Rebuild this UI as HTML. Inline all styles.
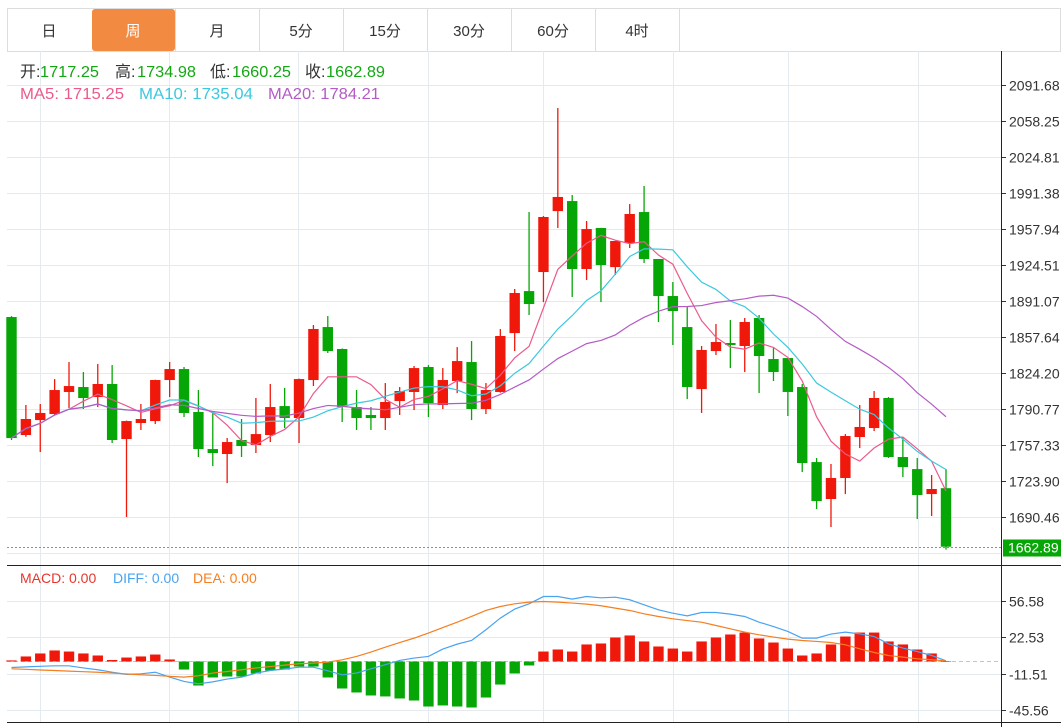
<!DOCTYPE html>
<html><head><meta charset="utf-8"><style>
body{margin:0;background:#fff;font-family:"Liberation Sans","Noto Sans CJK SC",sans-serif;}
svg{display:block}
.tab{font-size:15px;fill:#333;text-anchor:middle}
</style></head><body>
<svg id="c" width="1061" height="727" xmlns="http://www.w3.org/2000/svg">
<g id="tabs">
<rect x="7.5" y="8.5" width="1053" height="43" fill="#fff" stroke="#ddd"/>
<rect x="92" y="9" width="83" height="42" rx="3" fill="#f28b41"/>
<line x1="175.5" y1="9" x2="175.5" y2="51" stroke="#ddd"/><line x1="259.5" y1="9" x2="259.5" y2="51" stroke="#ddd"/><line x1="343.5" y1="9" x2="343.5" y2="51" stroke="#ddd"/><line x1="427.5" y1="9" x2="427.5" y2="51" stroke="#ddd"/><line x1="511.5" y1="9" x2="511.5" y2="51" stroke="#ddd"/><line x1="595.5" y1="9" x2="595.5" y2="51" stroke="#ddd"/><line x1="679.5" y1="9" x2="679.5" y2="51" stroke="#ddd"/>
<text class="tab" x="49" y="36">日</text>
<text class="tab" x="133" y="36" style="fill:#fff">周</text>
<text class="tab" x="217" y="36">月</text>
<text class="tab" x="301" y="36">5分</text>
<text class="tab" x="385" y="36">15分</text>
<text class="tab" x="469" y="36">30分</text>
<text class="tab" x="553" y="36">60分</text>
<text class="tab" x="637" y="36">4时</text>
</g>
<g id="grid"></g>
<g id="main"></g>
<g id="macd"></g>
<g id="axes">
<line x1="1001.5" y1="51" x2="1001.5" y2="727" stroke="#222"/>
<line x1="7" y1="565.5" x2="1061" y2="565.5" stroke="#222"/>
<line x1="7" y1="722.5" x2="1061" y2="722.5" stroke="#222"/>
</g>
<g font-size="16">
<g>
<text x="20" y="77" fill="#333">开:</text><text x="40" y="77" fill="#13a813" textLength="59" lengthAdjust="spacingAndGlyphs">1717.25</text>
<text x="115" y="77" fill="#333">高:</text><text x="137" y="77" fill="#13a813" textLength="59" lengthAdjust="spacingAndGlyphs">1734.98</text>
<text x="210" y="77" fill="#333">低:</text><text x="232" y="77" fill="#13a813" textLength="59" lengthAdjust="spacingAndGlyphs">1660.25</text>
<text x="305" y="77" fill="#333">收:</text><text x="326" y="77" fill="#13a813" textLength="59" lengthAdjust="spacingAndGlyphs">1662.89</text>
</g>
<g>
<text x="20" y="99" fill="#ec5a8c" textLength="104" lengthAdjust="spacingAndGlyphs">MA5: 1715.25</text>
<text x="139" y="99" fill="#3cc8de" textLength="114" lengthAdjust="spacingAndGlyphs">MA10: 1735.04</text>
<text x="268" y="99" fill="#b45bc6" textLength="112" lengthAdjust="spacingAndGlyphs">MA20: 1784.21</text>
</g>
<g font-size="14">
<text x="20" y="583" fill="#e8352b">MACD: 0.00</text>
<text x="113" y="583" fill="#4aa3f0">DIFF: 0.00</text>
<text x="193" y="583" fill="#f57e20">DEA: 0.00</text>
</g>
</g>
</svg>
<script>
const opens =[1876.2,1766.6,1780.5,1786.1,1806.6,1811.2,1801.9,1814.0,1762.9,1777.8,1779.6,1817.7,1827.9,1788.0,1753.6,1749.0,1762.0,1757.3,1766.6,1793.5,1782.4,1817.7,1866.9,1846.5,1792.6,1785.2,1782.4,1798.2,1806.6,1829.8,1794.5,1816.8,1834.4,1790.8,1806.6,1861.3,1900.3,1918.0,1974.6,1983.9,1920.8,1958.9,1922.6,1944.9,1973.7,1930.1,1895.7,1866.9,1809.3,1844.6,1852.1,1849.3,1875.3,1837.2,1838.1,1811.2,1741.5,1707.2,1726.7,1764.8,1773.1,1801.0,1746.2,1735.0,1711.8,1717.25];
const highs =[1877.1,1794.5,1795.4,1818.6,1834.4,1825.1,1832.6,1831.6,1780.0,1795.4,1818.0,1834.4,1829.8,1808.4,1787.1,1763.8,1781.5,1801.0,1814.0,1810.3,1819.0,1868.8,1877.1,1847.0,1808.4,1792.6,1814.9,1811.2,1830.7,1831.6,1828.8,1848.3,1853.9,1814.9,1865.1,1902.2,1973.7,1970.0,2070.3,1989.5,1965.4,1959.0,1947.0,1981.1,1997.9,1930.1,1908.7,1885.5,1849.3,1869.7,1873.4,1875.3,1878.1,1847.4,1838.1,1814.0,1745.3,1739.7,1767.5,1794.5,1807.5,1801.9,1764.8,1745.3,1729.5,1734.98];
const lows  =[1762.0,1765.0,1750.8,1785.0,1791.7,1790.8,1792.6,1759.2,1690.5,1771.3,1776.8,1801.9,1783.3,1746.2,1737.8,1722.0,1746.2,1749.9,1760.1,1773.1,1759.2,1812.1,1842.8,1778.7,1771.3,1771.3,1771.3,1785.2,1789.8,1783.3,1790.8,1805.6,1780.5,1786.1,1806.0,1844.6,1878.1,1890.1,1958.9,1894.8,1910.6,1890.1,1915.2,1940.3,1926.4,1871.6,1850.2,1800.0,1787.1,1840.9,1828.8,1825.1,1805.6,1816.8,1784.3,1732.3,1697.9,1681.2,1711.8,1754.5,1770.3,1745.3,1727.6,1688.6,1691.4,1660.25];
const closes=[1763.8,1781.5,1787.1,1808.4,1812.1,1801.0,1814.0,1762.0,1779.6,1781.5,1817.7,1827.9,1787.1,1753.6,1749.9,1760.1,1756.4,1767.5,1792.6,1782.4,1818.6,1865.1,1844.6,1792.6,1782.4,1782.4,1797.3,1807.5,1828.8,1796.3,1817.7,1835.3,1790.8,1808.4,1858.6,1898.5,1888.3,1969.1,1987.7,1920.8,1957.9,1924.5,1946.8,1971.9,1930.1,1895.7,1881.8,1811.2,1845.6,1853.0,1850.2,1871.6,1840.0,1825.1,1806.6,1740.6,1705.3,1726.7,1765.7,1774.1,1801.0,1746.2,1736.9,1710.9,1716.5,1662.89];
const macdBars=[1,4.7,7.5,10.3,9.3,7.5,5.6,1.4,3.7,4.7,6.5,1.9,-7.5,-22.4,-14.9,-14,-14,-11.2,-8.4,-7.5,-4.7,-4.7,-14.9,-25.2,-28.9,-31.7,-32.6,-34.5,-36.4,-42,-41,-42,-42.9,-33.6,-21.5,-11.2,-3.7,9.3,11.2,9.3,15.9,16.8,22.4,24.3,18.7,14,12.1,9.3,18.7,22.4,25.2,27,21.5,17.7,12.1,5.6,7.5,15.9,23.3,27,27,18.7,15.9,11.2,7.5,0];
const diffVals=[-5.6,-5,-4.5,-4,-4,-6,-7.7,-10,-12,-11.5,-10,-14.5,-18.6,-20.8,-19,-16.4,-14.6,-10.8,-8.4,-7,-5.3,-5.3,-8.7,-12.4,-10.8,-6.8,-3,1,3.2,4.7,11.6,16.2,19.6,29.6,40.5,48.9,53.8,60.6,60.6,58.2,60.6,59.4,60,57.6,52.9,48.2,45.1,42.6,45.7,45.7,44.2,42,36.7,32.6,28,21.8,21.8,25.6,27.4,25.8,23.3,16.5,12.5,9.3,5.6,0.6];
const deaVals=[-6.8,-7.3,-7.9,-8.4,-9,-9.5,-10,-10.8,-11.6,-12.4,-13,-13.8,-14.6,-13.3,-10.8,-9.3,-7.7,-6,-4.7,-3.4,-2.1,-1.5,-0.6,1.6,4.7,8.8,13.4,17.7,21.8,26.5,31.7,36.7,42,47.6,51.3,53.8,55.4,56,55.4,54.5,53.5,52,49.8,47.6,44.5,42,39.8,38.2,36.7,33.6,30.5,27.4,24.9,22.8,20.9,19.6,18.7,17.7,15.6,11.8,8.4,5.6,4.1,2.5,1.6,0.6];
const priceTicks=[2091.68,2058.25,2024.81,1991.38,1957.94,1924.51,1891.07,1857.64,1824.20,1790.77,1757.33,1723.90,1690.46];
const macdTicks=[56.58,22.53,-11.51,-45.56];
const lastPrice=1662.89;

const NS="http://www.w3.org/2000/svg";
function mk(tag,attrs,parent){const e=document.createElementNS(NS,tag);for(const k in attrs)e.setAttribute(k,attrs[k]);parent.appendChild(e);return e;}
const N=closes.length;
const xS=i=>11.5+i*(946-11.5)/(N-1);
const yP=p=>85+(2091.68-p)*1.0768;
const yM=v=>661.5-v*1.072;
const grid=document.getElementById('grid'),main=document.getElementById('main'),mac=document.getElementById('macd'),axes=document.getElementById('axes');
[40,169,298,428,543,673,788,918].forEach(x=>{const l=mk('line',{x1:x+.5,y1:51,x2:x+.5,y2:722,stroke:'#e3eaf0'},grid);

});
priceTicks.forEach(t=>{const y=Math.round(yP(t))+.5;
const l=mk('line',{x1:7,y1:y,x2:1001,y2:y,stroke:'#e3eaf0'},grid);


mk('line',{x1:1002,y1:y,x2:1006,y2:y,stroke:'#333'},axes);
const tx=mk('text',{x:1009,y:y+5,'font-size':14,fill:'#333'},axes);tx.textContent=t.toFixed(2);

});
mk('line',{x1:7,y1:553.5,x2:1001,y2:553.5,stroke:'#e3eaf0'},grid);
macdTicks.forEach(t=>{const y=Math.round(yM(t))+.5;
const l=mk('line',{x1:7,y1:y,x2:1001,y2:y,stroke:'#e3eaf0'},grid);


mk('line',{x1:1002,y1:y,x2:1006,y2:y,stroke:'#333'},axes);
const tx=mk('text',{x:1009,y:y+5,'font-size':14,fill:'#333'},axes);tx.textContent=t.toFixed(2);

});
const RED='#f0180a',GRN='#07a607';
for(let i=0;i<N;i++){const up=closes[i]>=opens[i];const col=up?RED:GRN;const x=xS(i);
const w=mk('line',{x1:x,y1:yP(highs[i]),x2:x,y2:yP(lows[i]),stroke:col,'stroke-width':1.3},main);


const top=yP(Math.max(opens[i],closes[i])),bot=yP(Math.min(opens[i],closes[i]));
const r=mk('rect',{x:x-5.2,y:top,width:10.4,height:Math.max(1.5,bot-top),fill:col},main);

}
function ma(n){return closes.map((_,i)=>{const s=Math.max(0,i-n+1);let t=0;for(let k=s;k<=i;k++)t+=closes[k];return t/(i-s+1);});}
[[5,'#ec5a8c','ma5-line'],[10,'#3cc8de','ma10-line'],[20,'#b45bc6','ma20-line']].forEach(([n,c,nm])=>{
const v=ma(n);const p=mk('polyline',{points:v.map((m,i)=>xS(i)+','+yP(m)).join(' '),fill:'none',stroke:c,'stroke-width':1.2},main);

});
const ly=Math.round(yP(lastPrice))+.5;
mk('line',{x1:7,y1:ly,x2:1001,y2:ly,stroke:'#4cc04c','stroke-dasharray':'2,2'},main);
mk('rect',{x:1003,y:ly-8,width:58,height:17,fill:GRN},axes);
const lt=mk('text',{x:1008,y:ly+5,'font-size':14,fill:'#fff'},axes);lt.textContent=lastPrice.toFixed(2);


const z=yM(0);
mk('line',{x1:7,y1:z,x2:1001,y2:z,stroke:'#9fd0ec','stroke-dasharray':'4,3'},mac);
for(let i=0;i<N;i++){const h=macdBars[i];const y=yM(h);
const b=mk('rect',{x:xS(i)-5.2,y:Math.min(y,z),width:10.4,height:Math.max(0.5,Math.abs(y-z)),fill:h>=0?RED:GRN},mac);

}
const dl=mk('polyline',{points:diffVals.map((v,i)=>xS(i)+','+yM(v)).join(' '),fill:'none',stroke:'#4aa3f0','stroke-width':1.2},mac);


const el=mk('polyline',{points:deaVals.map((v,i)=>xS(i)+','+yM(v)).join(' '),fill:'none',stroke:'#f57e20','stroke-width':1.2},mac);


</script>
</body></html>
